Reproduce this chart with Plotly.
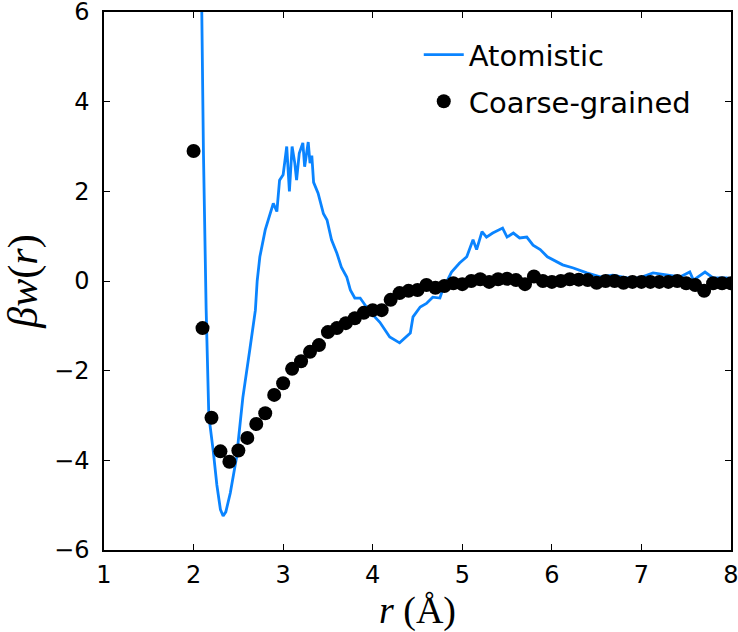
import plotly.graph_objects as go

# Atomistic potential of mean force
atom_r = [2.080, 2.090, 2.110, 2.140, 2.170, 2.220, 2.260, 2.300, 2.330, 2.360, 2.410, 2.480, 2.550, 2.630, 2.690,
          2.710, 2.740, 2.800, 2.850, 2.890, 2.930, 2.960, 3.000, 3.040, 3.070, 3.100, 3.130, 3.150, 3.180,
          3.220, 3.240, 3.280, 3.300, 3.320, 3.340, 3.390, 3.450, 3.490, 3.540, 3.600, 3.650, 3.710, 3.750,
          3.800, 3.860, 3.930, 4.000, 4.080, 4.190, 4.300, 4.420, 4.450, 4.530, 4.600, 4.670, 4.750, 4.780,
          4.880, 4.970, 5.050, 5.120, 5.160, 5.220, 5.270, 5.340, 5.450, 5.500, 5.570, 5.640, 5.720, 5.790,
          5.870, 5.950, 6.010, 6.120, 6.240, 6.390, 6.540, 6.680, 6.840, 6.980, 7.130, 7.280, 7.430, 7.540,
          7.580, 7.710, 7.800, 7.950, 8.000]
atom_w = [8.0, 6.0, 2.9, -0.6, -3.0, -3.8, -4.55, -5.1, -5.24, -5.15, -4.73, -3.93, -2.6, -1.5, -0.65,
          0.0, 0.54, 1.14, 1.5, 1.73, 1.55, 2.25, 2.37, 3.0, 2.0, 3.0, 2.63, 2.25, 2.85,
          3.08, 2.55, 3.1, 2.63, 2.8, 2.2, 1.96, 1.5, 1.36, 0.92, 0.62, 0.31, 0.09, -0.2,
          -0.38, -0.38, -0.58, -0.75, -0.92, -1.25, -1.38, -1.16, -0.8, -0.58, -0.5, -0.36, -0.38, -0.2,
          0.2, 0.4, 0.54, 0.92, 0.7, 1.1, 0.98, 1.07, 1.18, 0.98, 1.07, 0.96, 0.98, 0.8,
          0.7, 0.54, 0.47, 0.36, 0.29, 0.18, 0.09, 0.13, 0.07, 0.07, 0.18, 0.13, 0.09, 0.2,
          0.02, 0.2, 0.07, 0.07, 0.05]

# Coarse-grained potential
cg_r = [round(2.0 + 0.1 * i, 1) for i in range(61)]
cg_w = [2.9, -1.05, -3.05, -3.8, -4.03, -3.78, -3.5, -3.19, -2.95, -2.54,
        -2.28, -1.96, -1.79, -1.58, -1.43, -1.14, -1.05, -0.94, -0.83, -0.71,
        -0.65, -0.65, -0.42, -0.27, -0.22, -0.2, -0.09, -0.15, -0.11, -0.05,
        -0.07, 0.0, 0.04, -0.02, 0.04, 0.05, 0.02, -0.07, 0.1, 0.0,
        -0.02, 0.0, 0.04, 0.03, 0.02, -0.04, 0.0, 0.0, -0.04, -0.02,
        -0.02, -0.02, -0.02, -0.02, 0.0, -0.05, -0.09, -0.22, -0.05, -0.05, -0.05]

x_ticks = [1, 2, 3, 4, 5, 6, 7, 8]
y_ticks = [-6, -4, -2, 0, 2, 4, 6]

fig = go.Figure()
fig.add_trace(go.Scatter(x=atom_r, y=atom_w, mode="lines", name="Atomistic", legendgroup="a",
                         line=dict(color="#0a84ff", width=2.8)))
fig.add_trace(go.Scatter(x=cg_r, y=cg_w, mode="markers", name="Coarse-grained", legendgroup="b",
                         marker=dict(color="black", size=14)))

axis_common = dict(showgrid=False, zeroline=False, showline=True, linecolor="black", linewidth=1.5,
                   mirror="ticks", ticks="inside", ticklen=6, tickwidth=1, tickcolor="black",
                   automargin=False, ticklabeloverflow="allow",
                   tickfont=dict(family="DejaVu Sans", size=24, color="black"))

fig.update_layout(
    width=738, height=632,
    margin=dict(l=104, r=7, t=12, b=82),
    plot_bgcolor="white", paper_bgcolor="white",
    xaxis=dict(range=[1, 8], tickvals=x_ticks, ticklabelstandoff=2,
               title=dict(text="<i>r</i> (Å)", font=dict(family="Liberation Serif", size=38, color="black"),
                          standoff=8),
               **axis_common),
    yaxis=dict(range=[-6, 6], tickvals=y_ticks, ticklabelstandoff=8,
               title=dict(text="<i>βw</i>(<i>r</i>)", font=dict(family="Liberation Serif", size=42, color="black"),
                          standoff=10),
               **axis_common),
    legend=dict(x=0.502, y=0.968, xanchor="left", yanchor="top", bgcolor="rgba(0,0,0,0)",
                font=dict(family="DejaVu Sans", size=29, color="black"), itemwidth=40,
                tracegroupgap=6),
    showlegend=True,
)

fig.write_html("out.html")
